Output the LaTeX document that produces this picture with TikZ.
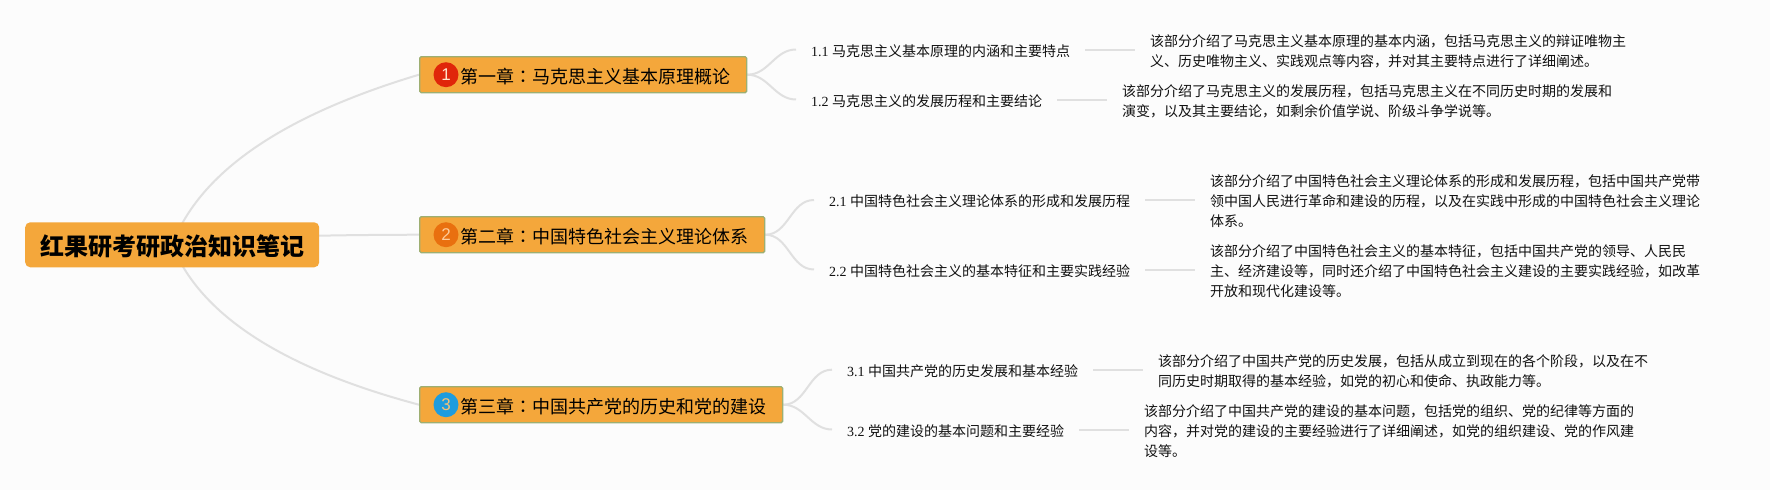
\documentclass[tikz,border=0pt]{standalone}
\usepackage{fontspec}
\setmainfont{Noto Sans CJK SC}
\newfontfamily\numfont{Liberation Serif}
\newfontfamily\colonfont{Noto Sans CJK TC}
\newfontfamily\dotfont{Liberation Sans}
\usetikzlibrary{backgrounds}
\definecolor{pagebg}{HTML}{FCFCFC}
\definecolor{boxfill}{HTML}{F4A73B}
\definecolor{boxline}{HTML}{9DAF72}
\definecolor{linkgray}{HTML}{E0E0E0}
\definecolor{textgray}{HTML}{111111}
\definecolor{dotred}{HTML}{E0260A}
\definecolor{dotorange}{HTML}{E9700F}
\definecolor{dotblue}{HTML}{1E9CDE}
\tikzset{
	rootbox/.style={anchor=west, fill=boxfill, rounded corners=5, minimum width=294, minimum height=45, inner sep=0, text height=21.6, text depth=0, font=\fontsize{24}{24}\selectfont\bfseries},
	chapbox/.style={anchor=west, fill=boxfill, draw=boxline, line width=1.3, rounded corners=1.5, minimum height=36, inner xsep=16, inner ysep=0, text height=17, text depth=0, font=\fontsize{18}{18}\selectfont},
	numdot/.style={circle, minimum size=25, inner sep=0, text height=12, text depth=0, font=\fontsize{17}{17}\dotfont},
	secnode/.style={anchor=west, inner xsep=15, inner ysep=0, text=textgray, text height=13.6, text depth=0, font=\fontsize{14}{14}\selectfont},
	txtnode/.style={anchor=west, inner xsep=15, inner ysep=0, align=left, text=textgray, font=\fontsize{14}{20}\selectfont},
	link/.style={draw=linkgray, line width=2}
}
\begin{document}
\begin{tikzpicture}[x=1pt, y=-1pt]
		\useasboundingbox (0,0) rectangle (1770,490);

		\node[rootbox] (root) at (25,244.8) {红果研考研政治知识笔记};

		\node[chapbox] (ch1) at (419,74.7) {\hspace*{25pt}第一章{\colonfont ：}马克思主义基本原理概论};
		\node[chapbox] (ch2) at (419,234.7) {\hspace*{25pt}第二章{\colonfont ：}中国特色社会主义理论体系};
		\node[chapbox] (ch3) at (419,404.7) {\hspace*{25pt}第三章{\colonfont ：}中国共产党的历史和党的建设};

		\node[numdot, fill=dotred, text=white!80!orange] (dot1) at (446,74.7) {1};
		\node[numdot, fill=dotorange, text=orange!40!white] (dot2) at (446,234.7) {2};
		\node[numdot, fill=dotblue, text=boxfill!70!white] (dot3) at (446,404.7) {3};

		\node[secnode] (sec11) at (796,49.5) {{\numfont 1.1 }马克思主义基本原理的内涵和主要特点};
		\node[secnode] (sec12) at (796,99.5) {{\numfont 1.2 }马克思主义的发展历程和主要结论};
		\node[secnode] (sec21) at (814,200) {{\numfont 2.1 }中国特色社会主义理论体系的形成和发展历程};
		\node[secnode] (sec22) at (814,269.5) {{\numfont 2.2 }中国特色社会主义的基本特征和主要实践经验};
		\node[secnode] (sec31) at (832,369.7) {{\numfont 3.1 }中国共产党的历史发展和基本经验};
		\node[secnode] (sec32) at (832,429.5) {{\numfont 3.2 }党的建设的基本问题和主要经验};

		\node[txtnode] (txt11) at (1135,51.7) {该部分介绍了马克思主义基本原理的基本内涵，包括马克思主义的辩证唯物主\\义、历史唯物主义、实践观点等内容，并对其主要特点进行了详细阐述。};
		\node[txtnode] (txt12) at (1107,101.7) {该部分介绍了马克思主义的发展历程，包括马克思主义在不同历史时期的发展和\\演变，以及其主要结论，如剩余价值学说、阶级斗争学说等。};
		\node[txtnode] (txt21) at (1195,200.9) {该部分介绍了中国特色社会主义理论体系的形成和发展历程，包括中国共产党带\\领中国人民进行革命和建设的历程，以及在实践中形成的中国特色社会主义理论\\体系。};
		\node[txtnode] (txt22) at (1195,270.9) {该部分介绍了中国特色社会主义的基本特征，包括中国共产党的领导、人民民\\主、经济建设等，同时还介绍了中国特色社会主义建设的主要实践经验，如改革\\开放和现代化建设等。};
		\node[txtnode] (txt31) at (1143,371.7) {该部分介绍了中国共产党的历史发展，包括从成立到现在的各个阶段，以及在不\\同历史时期取得的基本经验，如党的初心和使命、执政能力等。};
		\node[txtnode] (txt32) at (1129,430.9) {该部分介绍了中国共产党的建设的基本问题，包括党的组织、党的纪律等方面的\\内容，并对党的建设的主要经验进行了详细阐述，如党的组织建设、党的作风建\\设等。};

		\begin{scope}[on background layer]
			\fill[pagebg] (0,0) rectangle (1770,490);
			\draw[link] (root.center) .. controls (200,172) and (282.3,115.7) .. (ch1.west);
			\draw[link] (root.center) .. controls (240,236) and (330,235) .. (ch2.west);
			\draw[link] (root.center) .. controls (200,314.8) and (282.3,368.3) .. (ch3.west);

			\draw[link] (ch1.east) to[out=0, in=180] (sec11.west);
			\draw[link] (ch1.east) to[out=0, in=180] (sec12.west);
			\draw[link] (ch2.east) to[out=0, in=180] (sec21.west);
			\draw[link] (ch2.east) to[out=0, in=180] (sec22.west);
			\draw[link] (ch3.east) to[out=0, in=180] (sec31.west);
			\draw[link] (ch3.east) to[out=0, in=180] (sec32.west);

			\draw[link] (sec11.east) -- (sec11.east -| txt11.west);
			\draw[link] (sec12.east) -- (sec12.east -| txt12.west);
			\draw[link] (sec21.east) -- (sec21.east -| txt21.west);
			\draw[link] (sec22.east) -- (sec22.east -| txt22.west);
			\draw[link] (sec31.east) -- (sec31.east -| txt31.west);
			\draw[link] (sec32.east) -- (sec32.east -| txt32.west);
		\end{scope}
    \end{tikzpicture}
\end{document}
